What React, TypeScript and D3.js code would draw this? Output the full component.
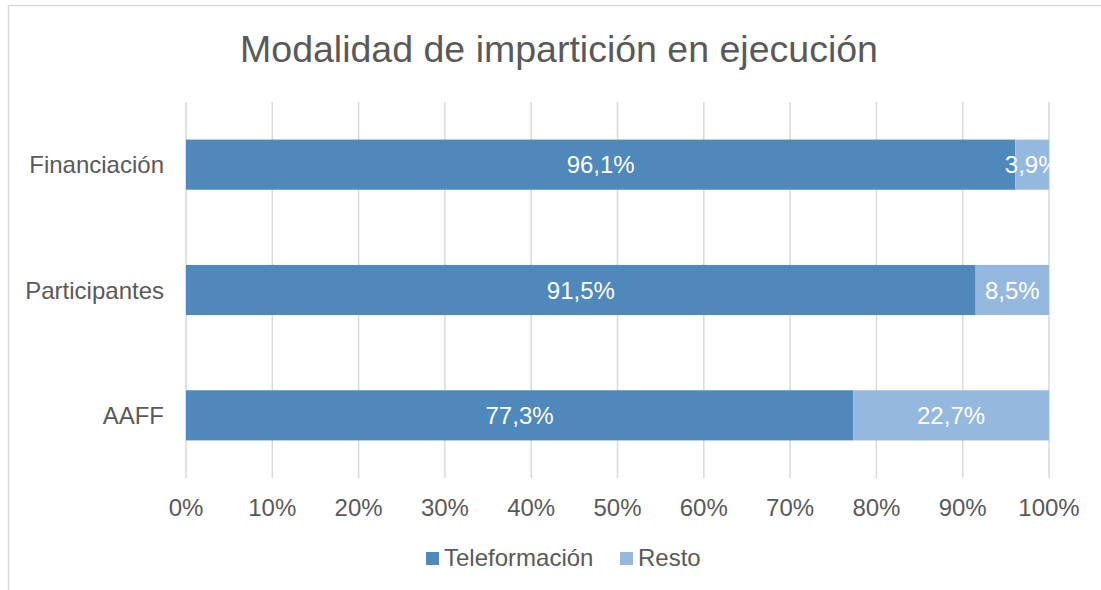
import * as d3 from "d3"

const categories = ["Financiación", "Participantes", "AAFF"]
const teleformacion = [96.1, 91.5, 77.3]
const resto = [3.9, 8.5, 22.7]
const seriesNames = ["Teleformación", "Resto"]
const seriesColors = ["#4f88bb", "#95b8df"]
const ticks = [0, 10, 20, 30, 40, 50, 60, 70, 80, 90, 100]

const W = 1101
const H = 590
const font = "'Liberation Sans', Arial, sans-serif"
const textColor = "#595959"

const fmt = (v: number) => v.toFixed(1).replace(".", ",") + "%"

export default function App() {
  const x = d3.scaleLinear().domain([0, 100]).range([186, 1049])
  const y = d3
    .scaleBand<string>()
    .domain(categories)
    .range([102, 478])
    .paddingInner(0.6)
    .paddingOuter(0.3)

  const stacked = categories.map((c, i) => {
    const vals = [teleformacion[i], resto[i]]
    let acc = 0
    return vals.map((v, k) => {
      const seg = { cat: c, k, x0: acc, x1: acc + v, v }
      acc += v
      return seg
    })
  })

  return (
    <svg
      width={W}
      height={H}
      style={{ position: "absolute", left: 0, top: 0 }}
      fontFamily={font}
    >
      <defs>
        <clipPath id="plot">
          <rect x={x(0)} y={102} width={x(100) - x(0)} height={376} />
        </clipPath>
      </defs>
      <rect x={0} y={0} width={W} height={H} fill="#fff" />
      <rect x={8.5} y={5.5} width={W + 20} height={H + 20} fill="none" stroke="#d9d9d9" strokeWidth={1.5} />

      <text x={559} y={62} textAnchor="middle" fontSize={37.5} fill={textColor}>
        Modalidad de impartición en ejecución
      </text>

      {ticks.map((t) => (
        <line key={t} x1={x(t)} x2={x(t)} y1={102} y2={478} stroke="#d9d9d9" strokeWidth={1.5} />
      ))}

      {stacked.map((row) =>
        row.map((s) => (
          <rect
            key={s.cat + s.k}
            x={x(s.x0)}
            y={y(s.cat)}
            width={x(s.x1) - x(s.x0)}
            height={y.bandwidth()}
            fill={seriesColors[s.k]}
          />
        ))
      )}

      <g clipPath="url(#plot)">
        {stacked.map((row) =>
          row.map((s) => (
            <text
              key={"l" + s.cat + s.k}
              x={(x(s.x0) + x(s.x1)) / 2}
              y={(y(s.cat) ?? 0) + y.bandwidth() / 2 + 8.5}
              textAnchor="middle"
              fontSize={24}
              fill="#fff"
            >
              {fmt(s.v)}
            </text>
          ))
        )}
      </g>

      {categories.map((c) => (
        <text
          key={c}
          x={164}
          y={(y(c) ?? 0) + y.bandwidth() / 2 + 8.5}
          textAnchor="end"
          fontSize={24}
          fill={textColor}
        >
          {c}
        </text>
      ))}

      {ticks.map((t) => (
        <text key={"t" + t} x={x(t)} y={516} textAnchor="middle" fontSize={24} fill={textColor}>
          {t + "%"}
        </text>
      ))}

      <rect x={426} y={552} width={13} height={13} fill={seriesColors[0]} />
      <text x={444} y={566} fontSize={24} fill={textColor}>
        {seriesNames[0]}
      </text>
      <rect x={620} y={552} width={13} height={13} fill={seriesColors[1]} />
      <text x={638} y={566} fontSize={24} fill={textColor}>
        {seriesNames[1]}
      </text>
    </svg>
  )
}
